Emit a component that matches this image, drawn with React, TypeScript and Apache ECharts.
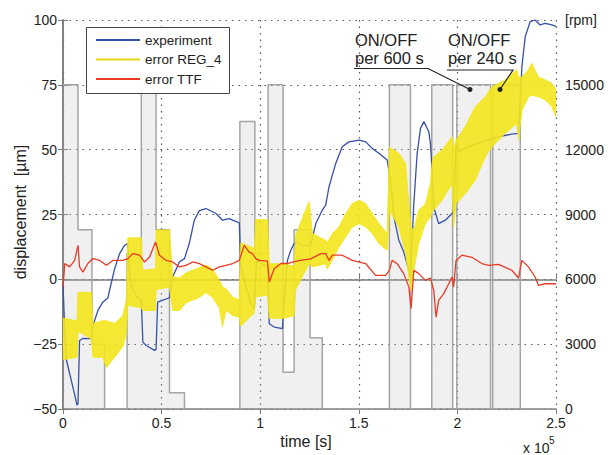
import React, { useEffect, useRef } from "react";
import * as echarts from "echarts";

// time in units of 1e5 s, displacement in µm
const experiment: [number, number][] = [
  [0, -2], [0.009, -20], [0.017, -31], [0.042, -39], [0.064, -46], [0.071, -48.5], [0.076, -48],
  [0.084, -23.6], [0.101, -22.8], [0.144, -22.9], [0.152, -17.8], [0.177, -12], [0.202, -8.8],
  [0.228, -7.1], [0.236, -4.2], [0.262, 4.1], [0.287, 9.9], [0.312, 13.1], [0.329, 13.8],
  [0.337, 1.5], [0.354, -4.2], [0.379, -7.1], [0.397, -8.1], [0.405, -24.2], [0.422, -25.5],
  [0.464, -27.4], [0.472, -27], [0.48, -8.8], [0.54, -7.1], [0.556, 0.9], [0.59, 6.7],
  [0.616, 8], [0.641, 14], [0.666, 22.8], [0.691, 26.5], [0.725, 27.3], [0.776, 25.4],
  [0.809, 22.8], [0.843, 23.4], [0.894, 21.8], [0.902, 4.8], [0.928, -3], [0.953, -9.4],
  [0.97, -11.3], [0.981, 7.3], [1.004, 6.1], [1.037, 5.2], [1.046, -17.1], [1.071, -18.4],
  [1.113, -19], [1.121, -8.1], [1.138, 7.3], [1.155, 11.2], [1.172, 13.8], [1.189, 14.4],
  [1.214, 13], [1.256, 13.1], [1.282, 21.5], [1.315, 26.7], [1.332, 28.6], [1.349, 35.7],
  [1.383, 44.7], [1.416, 51.1], [1.45, 53], [1.501, 53.7], [1.535, 53], [1.568, 50.5],
  [1.602, 48.6], [1.644, 46], [1.661, 38.3], [1.678, 24.1], [1.703, 15.1], [1.728, 10.5],
  [1.754, 3.5], [1.762, 0.9], [1.779, 29.2], [1.796, 48.6], [1.813, 58.2], [1.83, 60.8],
  [1.855, 56.9], [1.863, 52.4], [1.872, 42.1], [1.88, 27.9], [1.905, 21.5], [1.939, 22.8],
  [1.973, 25.4], [1.981, 26.5], [1.993, 52.4], [2.006, 49.2], [2.04, 50.5], [2.091, 52],
  [2.142, 53.5], [2.209, 55], [2.276, 56], [2.31, 56.3], [2.319, 69.2], [2.327, 82],
  [2.344, 93.6], [2.369, 99.4], [2.394, 100], [2.419, 98.1], [2.445, 98.7], [2.479, 98.1],
  [2.5, 97.5],
];

const errorTTF: [number, number][] = [
  [0, -3], [0.009, 6.1], [0.034, 4.8], [0.059, 7.3], [0.076, 13.1], [0.084, 4.8], [0.101, 2.8],
  [0.126, 6.1], [0.152, 8], [0.186, 7.3], [0.22, 5.4], [0.253, 7.3], [0.303, 7.3], [0.329, 8],
  [0.354, 9.9], [0.388, 9.3], [0.413, 6.7], [0.439, 8.6], [0.469, 14.4], [0.489, 9.3],
  [0.523, 7.3], [0.556, 6.7], [0.59, 4.8], [0.624, 5.4], [0.658, 6.7], [0.691, 6.1],
  [0.725, 4.8], [0.759, 3.5], [0.793, 4.8], [0.826, 5.4], [0.86, 6.1], [0.894, 7.3],
  [0.919, 13.1], [0.944, 10.5], [0.961, 9.9], [0.978, 8], [0.995, 7.3], [1.037, 7],
  [1.046, -1], [1.071, 4.1], [1.105, 6.1], [1.138, 6.1], [1.172, 6.8], [1.206, 7.3],
  [1.256, 7.9], [1.307, 9.9], [1.332, 9.9], [1.349, 7.3], [1.366, 9.3], [1.416, 9.3],
  [1.467, 7.3], [1.535, 6.1], [1.585, 1.5], [1.636, 1.5], [1.655, 3.5], [1.669, 7.3],
  [1.695, 6], [1.728, 2.2], [1.754, -3], [1.765, -11.3], [1.779, 3.5], [1.804, 2.2],
  [1.838, -0.4], [1.863, 0.5], [1.88, -4.2], [1.892, -14.6], [1.905, -8.1], [1.931, -5.5],
  [1.956, -1.7], [1.973, 0.9], [1.981, -3], [1.993, 7.3], [2.023, 9.3], [2.074, 8.5],
  [2.124, 6.1], [2.158, 5.4], [2.209, 5.8], [2.276, 3.5], [2.31, 0.5], [2.327, 7.3],
  [2.36, 4.8], [2.394, 0.9], [2.411, -2.3], [2.445, -1.7], [2.5, -1.7],
];

// error REG_4: oscillating band, lower and upper envelope
const reg4Time = [
  0, 0.071, 0.076, 0.144, 0.152, 0.202, 0.22, 0.262, 0.303, 0.321, 0.329, 0.397, 0.405, 0.469,
  0.472, 0.54, 0.556, 0.59, 0.624, 0.691, 0.725, 0.759, 0.793, 0.809, 0.826, 0.86, 0.894,
  0.902, 0.97, 0.978, 1.037, 1.046, 1.121, 1.172, 1.18, 1.248, 1.265, 1.332, 1.34, 1.366,
  1.4, 1.434, 1.467, 1.501, 1.535, 1.568, 1.602, 1.644, 1.655, 1.703, 1.737, 1.754, 1.765,
  1.779, 1.804, 1.838, 1.863, 1.872, 1.88, 1.922, 1.973, 1.981, 1.993, 2.04, 2.091, 2.142,
  2.175, 2.243, 2.301, 2.31, 2.327, 2.36, 2.377, 2.411, 2.445, 2.479, 2.5,
];
const reg4Low = [
  -31, -30, -20, -23, -30, -30, -34, -30, -26, -21, -10, -11, -12, -12,
  -4, -3, -12, -12, -9, -7, -5, -7, -11, -18.4, -12, -13.9, -14.6,
  -18, -13, -6.8, -6, -15, -15, -14, -4, 6, 4.8, 6, 4, 7.5,
  12.5, 16.4, 20.2, 21.5, 20.2, 17.7, 13.8, 11.2, 26.7, 20.2, 9.9, 1, -4.2,
  3.5, 13.8, 21.5, 24, 26, 26.7, 30.5, 37, 20.2, 29.2, 33, 38.3, 47.3,
  51.1, 56.3, 60.2, 53.7, 65, 70.4, 71, 70.4, 69.2, 66.6, 62.7,
];
const reg4High = [
  -15, -16, -5, -5, -17, -16, -16, -17, -14, -8, 16, 16, 3.5, 4,
  19, 19, 1, 0.5, 2.5, 4.5, 5.5, 4, -0.4, -3, -3.6, -6.8, -8.1,
  14, 12, 23, 23, 6, 6, 5, 17, 30, 17.7, 15, 14, 17.7,
  20.2, 25.4, 29.2, 30.5, 29.2, 25.4, 21.5, 17.7, 51, 48.6, 44.7, 29, 20,
  19, 26.7, 29, 37, 45, 47.3, 49.8, 55, 50, 53.7, 58.9, 66.6, 70.4,
  74.3, 76.9, 80.8, 78, 78, 80.8, 83.3, 78, 76.9, 75.6, 73,
];

// spindle speed steps (rpm), each value holds from its start time to the next
const speedStart = [
  0, 0.076, 0.147, 0.211, 0.325, 0.397, 0.472, 0.54, 0.616, 0.897, 0.973, 1.04, 1.116, 1.172,
  1.253, 1.315, 1.655, 1.762, 1.87, 1.976, 1.997, 2.168, 2.179, 2.319, 2.5,
];
const speedRpm = [
  15000, 8300, 3000, 0, 7200, 15000, 8300, 750, 0, 13300, 7200, 15000, 1700, 8300,
  3300, 0, 15000, 0, 15000, 0, 15000, 0, 15000, 0, 0,
];

const legendNames = ["experiment", "error REG_4", "error TTF"];

const FONT = "'Liberation Sans', Arial, sans-serif";
const BLUE = "#3550a8";
const YELLOW = "#f3e51c";
const RED = "#ea3a26";
const AXIS = "#7a7a7a";
const legendColors = [BLUE, "#e9d514", RED];

export default function App() {
  const ref = useRef<HTMLDivElement>(null);
  useEffect(() => {
    if (!ref.current) return;
    const chart = echarts.init(ref.current, null, { renderer: "svg" });
    const gridLine = { show: true, lineStyle: { type: [1.5, 5], color: "#555", width: 1.2 } };
    const tick = { show: true, inside: true, length: 5, lineStyle: { color: AXIS, width: 1 } };
    const axLine = { show: true, lineStyle: { color: AXIS, width: 1.5 } };
    const label = { color: "#222", fontSize: 14, fontFamily: FONT };
    const bandData = reg4Time.map((t, i) => [t, reg4Low[i], reg4High[i]]);

    const legendItems: any[] = [
      { type: "rect", z: 20, shape: { x: 86.5, y: 27.5, width: 143, height: 66 }, style: { fill: "#fff", stroke: "#444", lineWidth: 1 } },
    ];
    legendNames.forEach((n, i) => {
      const y = 40 + i * 19.5;
      legendItems.push({ type: "line", z: 21, shape: { x1: 96, y1: y, x2: 140, y2: y }, style: { stroke: legendColors[i], lineWidth: 2 } });
      legendItems.push({ type: "text", z: 21, x: 145, y, style: { text: n, font: `13.5px ${FONT}`, fill: "#222", align: "left", verticalAlign: "middle" } });
    });

    chart.setOption({
      animation: false,
      backgroundColor: "#fff",
      grid: { left: 63, right: 52, top: 20, bottom: 46, containLabel: false },
      xAxis: [
        {
          type: "value", min: 0, max: 2.5, interval: 0.5, position: "bottom",
          axisLine: axLine, axisTick: tick, splitLine: gridLine,
          axisLabel: { ...label, margin: 7 },
        },
        {
          type: "value", min: 0, max: 2.5, interval: 0.5, position: "top",
          axisLine: axLine, axisTick: tick, splitLine: { show: false },
          axisLabel: { show: false },
        },
      ],
      yAxis: [
        {
          type: "value", min: -50, max: 100, interval: 25, position: "left",
          axisLine: axLine, axisTick: tick, splitLine: gridLine,
          axisLabel: { ...label, margin: 6, formatter: (v: number) => String(v).replace("-", "\u2212") },
        },
        {
          type: "value", min: 0, max: 18000, interval: 3000, position: "right",
          axisLine: axLine, axisTick: tick, splitLine: { show: false },
          axisLabel: { ...label, margin: 9, formatter: (v: number) => (v === 18000 ? "[rpm]" : String(v)) },
        },
      ],
      series: [
        {
          name: "speed", type: "line", yAxisIndex: 1, step: "end", symbol: "none",
          data: speedStart.map((t, i) => [t, speedRpm[i]]),
          lineStyle: { color: "#a4a4a4", width: 1.5 },
          areaStyle: { color: "rgba(185,185,185,0.3)", origin: "start" },
          z: 1,
        },
        {
          name: "experiment", type: "line", symbol: "none", data: experiment,
          lineStyle: { color: BLUE, width: 1.3 }, itemStyle: { color: BLUE }, z: 2,
        },
        {
          name: "error REG_4", type: "custom", data: bandData, clip: true,
          encode: { x: 0, y: [1, 2] },
          itemStyle: { color: YELLOW },
          z: 3,
          renderItem: (params: any, api: any) => {
            if (params.dataIndex !== 0) return null;
            const upper = bandData.map((d) => api.coord([d[0], d[2]]));
            const lower = bandData.map((d) => api.coord([d[0], d[1]])).reverse();
            return {
              type: "polygon",
              shape: { points: upper.concat(lower) },
              style: { fill: YELLOW, stroke: YELLOW, lineWidth: 1, opacity: 0.9 },
            };
          },
        },
        {
          name: "error TTF", type: "line", symbol: "none", data: errorTTF,
          lineStyle: { color: RED, width: 1.3 }, itemStyle: { color: RED }, z: 4,
        },
      ],
      graphic: [
        ...legendItems,
        { type: "text", x: 20, y: 212, rotation: Math.PI / 2, style: { text: "displacement  [µm]", font: `16px ${FONT}`, fill: "#222", align: "center", verticalAlign: "middle" } },
        { type: "text", x: 306, y: 441, style: { text: "time [s]", font: `16px ${FONT}`, fill: "#222", align: "center", verticalAlign: "middle" } },
        { type: "text", x: 523, y: 448, style: { text: "x 10", font: `14px ${FONT}`, fill: "#222", align: "left", verticalAlign: "middle" } },
        { type: "text", x: 549, y: 440, style: { text: "5", font: `10px ${FONT}`, fill: "#222", align: "left", verticalAlign: "middle" } },
        { type: "text", x: 355, y: 40, z: 10, style: { text: "ON/OFF", font: `16.5px ${FONT}`, fill: "#222", align: "left", verticalAlign: "middle" } },
        { type: "text", x: 355, y: 58, z: 10, style: { text: "per 600 s", font: `16.5px ${FONT}`, fill: "#222", align: "left", verticalAlign: "middle" } },
        { type: "text", x: 448, y: 40, z: 10, style: { text: "ON/OFF", font: `16.5px ${FONT}`, fill: "#222", align: "left", verticalAlign: "middle" } },
        { type: "text", x: 448, y: 58, z: 10, style: { text: "per 240 s", font: `16.5px ${FONT}`, fill: "#222", align: "left", verticalAlign: "middle" } },
        { type: "polyline", z: 10, shape: { points: [[354, 68.5], [428, 68.5], [470, 89.5]] }, style: { stroke: "#222", lineWidth: 1.2, fill: null } },
        { type: "polyline", z: 10, shape: { points: [[447, 70], [513, 70], [500, 89.5]] }, style: { stroke: "#222", lineWidth: 1.2, fill: null } },
        { type: "circle", z: 10, shape: { cx: 470, cy: 89.5, r: 2.5 }, style: { fill: "#222" } },
        { type: "circle", z: 10, shape: { cx: 500, cy: 89.5, r: 2.5 }, style: { fill: "#222" } },
      ],
    });
    return () => chart.dispose();
  }, []);
  return <div ref={ref} style={{ position: "fixed", left: 0, top: 0, width: 608, height: 455, background: "#fff" }} />;
}
